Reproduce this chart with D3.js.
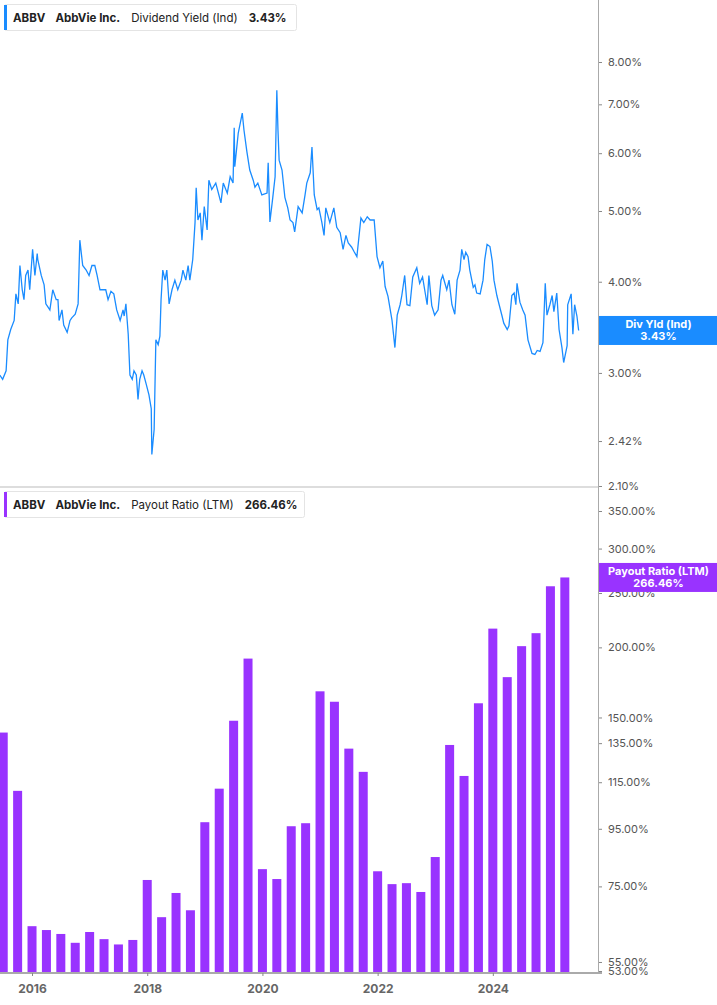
<!DOCTYPE html>
<html>
<head>
<meta charset="utf-8">
<script src="https://cdn.jsdelivr.net/npm/d3@7"></script>
<style>
  body { margin: 0; background: #fff; font-family: Inter, "Open Sans", sans-serif; }
  svg text { font-family: Inter, "Open Sans", sans-serif; }
</style>
</head>
<body>
<svg id="chart" width="717" height="1005"></svg>
<script>
// dividend yield (ind), [decimal year, %]
const yieldSeries = [
  [2015.44,2.98],[2015.49,2.94],[2015.55,3.02],[2015.58,3.33],[2015.63,3.44],[2015.69,3.54],[2015.72,3.85],[2015.76,3.73],
  [2015.79,4.21],[2015.83,3.90],[2015.86,3.78],[2015.89,4.08],[2015.93,4.15],[2015.96,3.90],[2016.01,4.43],[2016.05,4.08],
  [2016.09,4.37],[2016.10,4.29],[2016.16,4.08],[2016.21,3.96],[2016.24,3.73],[2016.31,3.66],[2016.36,3.90],[2016.42,3.78],
  [2016.45,3.78],[2016.47,3.54],[2016.52,3.66],[2016.55,3.49],[2016.61,3.41],[2016.66,3.54],[2016.69,3.57],[2016.75,3.61],
  [2016.80,3.73],[2016.83,4.56],[2016.88,4.21],[2016.94,4.15],[2016.99,4.08],[2017.04,4.21],[2017.09,4.21],[2017.13,4.08],
  [2017.18,3.90],[2017.23,3.90],[2017.28,3.90],[2017.32,3.78],[2017.37,3.88],[2017.42,3.85],[2017.47,3.66],[2017.53,3.54],
  [2017.58,3.66],[2017.60,3.59],[2017.63,3.73],[2017.67,3.39],[2017.70,2.98],[2017.74,2.94],[2017.77,3.02],[2017.81,2.98],
  [2017.84,2.76],[2017.87,2.94],[2017.91,3.02],[2017.94,2.98],[2017.98,2.90],[2018.03,2.80],[2018.07,2.68],[2018.08,2.32],
  [2018.12,2.51],[2018.15,3.33],[2018.19,3.28],[2018.22,3.37],[2018.24,3.78],[2018.27,4.15],[2018.31,4.02],[2018.34,4.15],
  [2018.38,3.73],[2018.43,3.90],[2018.48,4.02],[2018.53,3.90],[2018.59,4.02],[2018.62,4.15],[2018.67,4.02],[2018.71,4.21],
  [2018.74,4.02],[2018.79,4.29],[2018.83,4.82],[2018.85,5.38],[2018.88,4.86],[2018.92,4.97],[2018.95,4.56],[2018.99,5.07],
  [2019.04,4.71],[2019.07,5.51],[2019.12,5.35],[2019.19,5.46],[2019.28,5.13],[2019.32,5.46],[2019.39,5.29],[2019.44,5.57],
  [2019.49,5.46],[2019.51,6.50],[2019.52,5.75],[2019.58,6.39],[2019.65,6.81],[2019.68,6.45],[2019.73,6.03],[2019.78,5.69],
  [2019.84,5.51],[2019.87,5.39],[2019.92,5.46],[2019.99,5.26],[2020.08,5.29],[2020.10,5.82],[2020.13,4.83],[2020.18,5.22],
  [2020.22,5.57],[2020.25,7.32],[2020.27,6.45],[2020.29,5.87],[2020.34,5.69],[2020.39,5.22],[2020.44,5.05],[2020.48,4.86],
  [2020.53,4.82],[2020.56,4.68],[2020.62,5.07],[2020.69,4.97],[2020.74,5.26],[2020.77,5.46],[2020.83,5.64],[2020.86,6.12],
  [2020.90,5.26],[2020.95,5.02],[2020.98,5.05],[2021.03,4.83],[2021.07,4.63],[2021.10,5.05],[2021.17,4.82],[2021.24,5.05],
  [2021.29,4.75],[2021.35,4.67],[2021.40,4.43],[2021.45,4.63],[2021.49,4.52],[2021.55,4.46],[2021.59,4.40],[2021.64,4.33],
  [2021.71,4.89],[2021.76,4.82],[2021.82,4.91],[2021.87,4.86],[2021.94,4.86],[2021.99,4.33],[2022.04,4.18],[2022.09,4.27],
  [2022.13,3.94],[2022.18,3.82],[2022.25,3.54],[2022.30,3.25],[2022.34,3.60],[2022.39,3.72],[2022.42,3.83],[2022.47,4.08],
  [2022.51,3.72],[2022.56,3.71],[2022.61,4.06],[2022.68,4.18],[2022.73,3.98],[2022.78,4.06],[2022.86,3.72],[2022.89,4.08],
  [2022.94,3.71],[2022.99,3.60],[2023.05,3.66],[2023.10,4.02],[2023.13,4.08],[2023.20,3.90],[2023.24,4.02],[2023.29,3.72],
  [2023.34,3.61],[2023.38,4.02],[2023.43,4.15],[2023.46,4.43],[2023.50,4.29],[2023.53,4.39],[2023.57,4.33],[2023.60,4.15],
  [2023.66,3.93],[2023.69,3.96],[2023.72,3.86],[2023.78,3.85],[2023.83,4.02],[2023.86,4.29],[2023.90,4.50],[2023.95,4.47],
  [2023.99,4.27],[2024.02,4.02],[2024.07,3.83],[2024.11,3.72],[2024.16,3.59],[2024.19,3.51],[2024.25,3.44],[2024.28,3.48],
  [2024.33,3.83],[2024.37,3.86],[2024.40,3.72],[2024.42,3.98],[2024.47,3.75],[2024.52,3.66],[2024.56,3.60],[2024.61,3.33],
  [2024.68,3.19],[2024.73,3.18],[2024.77,3.22],[2024.82,3.21],[2024.87,3.30],[2024.91,3.98],[2024.94,3.60],[2024.99,3.72],
  [2025.03,3.83],[2025.06,3.64],[2025.11,3.86],[2025.15,3.44],[2025.20,3.25],[2025.23,3.10],[2025.29,3.27],[2025.30,3.72],
  [2025.36,3.85],[2025.39,3.39],[2025.42,3.72],[2025.46,3.59],[2025.49,3.43]
];

// payout ratio (LTM), quarterly
const quarters = [
  "2015Q2","2015Q3","2015Q4","2016Q1","2016Q2","2016Q3","2016Q4","2017Q1","2017Q2","2017Q3",
  "2017Q4","2018Q1","2018Q2","2018Q3","2018Q4","2019Q1","2019Q2","2019Q3","2019Q4","2020Q1",
  "2020Q2","2020Q3","2020Q4","2021Q1","2021Q2","2021Q3","2021Q4","2022Q1","2022Q2","2022Q3",
  "2022Q4","2023Q1","2023Q2","2023Q3","2023Q4","2024Q1","2024Q2","2024Q3","2024Q4","2025Q1"
];
const payout = [
  141, 111, 63.7, 62.7, 61.7, 59.5, 62.2, 60.4, 59.1, 60.2,
  77.0, 66.1, 73.0, 68.0, 97.6, 112, 148, 191, 80.5, 77.3,
  96, 97.2, 167, 160, 132, 120, 79.8, 75.7, 76.0, 73.3,
  84.6, 134, 118, 159, 216, 177, 201, 212, 257, 266.46
];

const yieldTicks = [2.10, 2.42, 3.00, 4.00, 5.00, 6.00, 7.00, 8.00];
const payoutTicks = [53, 55, 75, 95, 115, 135, 150, 200, 250, 300, 350];
const yearTicks = [2016, 2018, 2020, 2022, 2024];

const W = 717, plotR = 598;
const bot1 = 487, bot2 = 973;
const blue = "#1a8cff", purple = "#9933ff", grey = "#555";

const svg = d3.select("#chart");

const qYear = q => +q.slice(0, 4) + (+q.slice(5)) * 0.25;

var x = d3.scaleLinear().domain([2015.444, 2015.444 + plotR / 57.6]).range([0, plotR]);
var y1 = d3.scaleLog().domain([2.1, 8]).range([486, 62]);
var y2 = d3.scaleLog().domain([53, 350]).range([971, 511]);

// bars
svg.append("g").selectAll("rect")
  .data(payout)
  .join("rect")
  .attr("x", (d, i) => x(qYear(quarters[i])) - 4.5)
  .attr("width", 9)
  .attr("y", d => y2(d))
  .attr("height", d => bot2 - y2(d))
  .attr("fill", purple);

// line
const line = d3.line().x(d => x(d[0])).y(d => y1(d[1]));
svg.append("path")
  .datum(yieldSeries)
  .attr("d", line)
  .attr("fill", "none")
  .attr("stroke", blue)
  .attr("stroke-width", 1.3);

// divider + right axis line
svg.append("line").attr("x1", 0).attr("x2", plotR).attr("y1", bot1).attr("y2", bot1).attr("stroke", "#bbb");
svg.append("line").attr("x1", plotR + 0.5).attr("x2", plotR + 0.5).attr("y1", 0).attr("y2", bot2).attr("stroke", "#aaa");
svg.append("line").attr("x1", 0).attr("x2", plotR + 4).attr("y1", bot2).attr("y2", bot2).attr("stroke", "#aaa").attr("stroke-width", 2);

// right axes
const yAxis1 = d3.axisRight(y1).tickValues(yieldTicks).tickFormat(d => d.toFixed(2) + "%").tickSize(3).tickPadding(6);
const yAxis2 = d3.axisRight(y2).tickValues(payoutTicks).tickFormat(d => d.toFixed(2) + "%").tickSize(3).tickPadding(6);
[yAxis1, yAxis2].forEach(ax => {
  const g = svg.append("g").attr("transform", "translate(" + (plotR + 1) + ",0)").call(ax);
  g.select(".domain").remove();
  g.selectAll("line").attr("stroke", "#888");
  g.selectAll("text").attr("fill", grey).style("font-size", "11px");
});

// bottom axis
const xAxis = d3.axisBottom(x).tickValues(yearTicks).tickFormat(d3.format("d")).tickSize(3).tickPadding(8);
const gx = svg.append("g").attr("transform", "translate(0," + bot2 + ")").call(xAxis);
gx.select(".domain").remove();
gx.selectAll("line").attr("stroke", "#888");
gx.selectAll("text").attr("fill", "#666").style("font-size", "12px").style("font-weight", "bold");

// legend boxes
function legendBox(yTop, wBox, color, parts) {
  const g = svg.append("g");
  g.append("rect").attr("x", 4.5).attr("y", yTop + 0.5).attr("width", wBox).attr("height", 26).attr("rx", 2)
    .attr("fill", "#fff").attr("stroke", "#e4e4e4");
  g.append("rect").attr("x", 4).attr("y", yTop + 1).attr("width", 3).attr("height", 25).attr("fill", color);
  const t = g.append("text").attr("x", 13).attr("y", yTop + 18).style("font-size", "11.5px").attr("fill", "#222");
  parts.forEach((p, i) => {
    t.append("tspan").attr("dx", i ? 11 : 0).style("font-weight", p[1] ? "bold" : "normal").text(p[0]);
  });
}
legendBox(4, 292, blue, [["ABBV", true], ["AbbVie Inc.", true], ["Dividend Yield (Ind)", false], ["3.43%", true]]);
legendBox(491, 300, purple, [["ABBV", true], ["AbbVie Inc.", true], ["Payout Ratio (LTM)", false], ["266.46%", true]]);

// value tags
function tag(yc, color, l1, l2) {
  svg.append("rect").attr("x", plotR + 1).attr("y", yc - 14.5).attr("width", W - plotR).attr("height", 29).attr("fill", color);
  svg.append("text").attr("x", (plotR + W) / 2 + 1).attr("y", yc - 2).attr("text-anchor", "middle")
    .attr("fill", "#fff").style("font-size", "11px").style("font-weight", "bold").text(l1);
  svg.append("text").attr("x", (plotR + W) / 2 + 1).attr("y", yc + 10).attr("text-anchor", "middle")
    .attr("fill", "#fff").style("font-size", "11px").style("font-weight", "bold").text(l2);
}
tag(y1(3.43), blue, "Div Yld (Ind)", "3.43%");
tag(y2(266.46), purple, "Payout Ratio (LTM)", "266.46%");
</script>
</body>
</html>
